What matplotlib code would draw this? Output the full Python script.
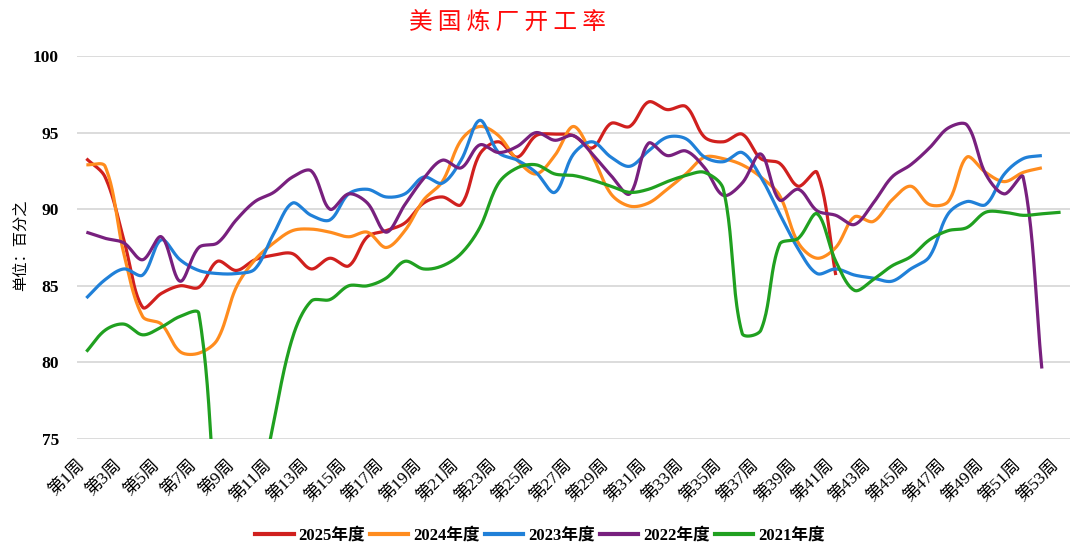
import numpy as np
import matplotlib
matplotlib.use("Agg")
import matplotlib.pyplot as plt
import matplotlib.transforms as mtransforms
from matplotlib.lines import Line2D

plt.rcParams['font.family'] = ['Liberation Serif', 'Noto Sans CJK SC', 'DejaVu Sans']

weeks = list(range(1, 54))
tick_weeks = list(range(1, 54, 2))
tick_labels = [f"第{w}周" for w in tick_weeks]

y2025 = [93.3, 92.1, 88.0, 83.6, 84.5, 85.0, 84.9, 86.6, 86.0, 86.7, 87.0, 87.1, 86.1, 86.8, 86.3,
         88.2, 88.6, 89.1, 90.4, 90.8, 90.3, 93.6, 94.4, 93.4, 94.8, 94.9, 94.8, 94.0, 95.6, 95.4,
         97.0, 96.5, 96.7, 94.7, 94.4, 94.9, 93.3, 93.0, 91.5, 92.4, 85.7]
y2024 = [92.9, 92.8, 87.1, 83.0, 82.5, 80.7, 80.6, 81.5, 84.9, 86.7, 87.8, 88.6, 88.7, 88.5, 88.2,
         88.5, 87.5, 88.6, 90.6, 91.8, 94.5, 95.4, 94.8, 93.2, 92.3, 93.5, 95.4, 93.5, 91.0, 90.2,
         90.4, 91.3, 92.3, 93.4, 93.3, 92.9, 92.1, 90.9, 87.8, 86.8, 87.5, 89.5, 89.2, 90.6, 91.5,
         90.3, 90.5, 93.4, 92.4, 91.8, 92.4, 92.7]
y2023 = [84.2, 85.4, 86.1, 85.7, 88.0, 86.7, 86.0, 85.8, 85.8, 86.1, 88.4, 90.4, 89.6, 89.3, 91.0,
         91.3, 90.8, 91.0, 92.1, 91.7, 93.2, 95.8, 93.7, 93.2, 92.4, 91.1, 93.6, 94.4, 93.4, 92.8,
         93.8, 94.7, 94.6, 93.4, 93.1, 93.7, 92.1, 89.7, 87.4, 85.8, 86.1, 85.7, 85.5, 85.3, 86.1,
         86.9, 89.7, 90.5, 90.3, 92.3, 93.3, 93.5]
y2022 = [88.5, 88.1, 87.8, 86.7, 88.2, 85.3, 87.5, 87.8, 89.3, 90.5, 91.1, 92.1, 92.5, 90.0, 91.0,
         90.4, 88.5, 90.3, 92.0, 93.2, 92.7, 94.2, 93.7, 94.1, 95.0, 94.5, 94.8, 93.6, 92.2, 91.0,
         94.3, 93.5, 93.8, 92.7, 90.9, 91.7, 93.6, 90.6, 91.3, 89.9, 89.6, 89.0, 90.4, 92.1, 92.9,
         94.0, 95.3, 95.5, 92.3, 91.0, 92.1, 79.6]
y2021 = [80.7, 82.1, 82.5, 81.8, 82.3, 83.0, 83.2, 68.6, 56.0, 69.3, 76.1, 81.6, 84.0, 84.1, 85.0,
         85.0, 85.5, 86.6, 86.1, 86.3, 87.1, 88.8, 91.7, 92.7, 92.9, 92.3, 92.2, 91.9, 91.5, 91.1,
         91.3, 91.8, 92.2, 92.4, 91.3, 81.9, 82.1, 87.7, 88.1, 89.7, 86.6, 84.7, 85.4, 86.3, 86.9,
         88.0, 88.6, 88.8, 89.8, 89.8, 89.6, 89.7, 89.8]

series = [("2025年度", y2025, "#D0201E"),
          ("2024年度", y2024, "#FF8C1E"),
          ("2023年度", y2023, "#2080D8"),
          ("2022年度", y2022, "#78207E"),
          ("2021年度", y2021, "#20A020")]

# pixel scale of one unit on each axis (used only for the curve smoothing)
SX, SY = 18.74, 15.33


def smooth(x, y, n=24, s=1.0 / 3.0):
    """Excel-like smoothed line: cubic Bezier, control arms scaled by chord lengths."""
    P = np.column_stack([np.asarray(x, float) * SX, np.asarray(y, float) * SY])
    m = len(P)
    out = [P[0]]
    t = np.linspace(0, 1, n + 1)[1:, None]
    for i in range(m - 1):
        p1, p2 = P[i], P[i + 1]
        L = np.linalg.norm(p2 - p1)
        if i > 0:
            Lp = np.linalg.norm(p1 - P[i - 1])
            d = P[i + 1] - P[i - 1]
            c1 = p1 + d * s * L / (Lp + L)
        else:
            c1 = p1 + (p2 - p1) / 3.0
        if i + 2 < m:
            Ln = np.linalg.norm(P[i + 2] - p2)
            d = P[i + 2] - P[i]
            c2 = p2 - d * s * L / (L + Ln)
        else:
            c2 = p2 - (p2 - p1) / 3.0
        seg = ((1 - t) ** 3) * p1 + 3 * ((1 - t) ** 2) * t * c1 + 3 * (1 - t) * t ** 2 * c2 + t ** 3 * p2
        out.extend(seg)
    out = np.array(out)
    return out[:, 0] / SX, out[:, 1] / SY


fig = plt.figure(figsize=(10.8, 5.59), dpi=100)
ax = fig.add_axes([0.0713, 0.2147, 0.9194, 0.6851])

for label, vals, color in series:
    xs, ys = smooth(weeks[:len(vals)], vals)
    ax.plot(xs, ys, color=color, lw=2.3, solid_capstyle='butt', zorder=3)

ax.set_xlim(0.5, 53.5)
ax.set_ylim(75, 100)
ax.set_yticks([75, 80, 85, 90, 95, 100])
ax.set_yticklabels(["75", "80", "85", "90", "95", "100"], fontsize=12.5, fontweight='bold',
                   family=['Liberation Serif'])
ax.yaxis.grid(True, color='#d9d9d9', lw=1.3, zorder=0)
ax.set_axisbelow(True)
for s in ax.spines.values():
    s.set_visible(False)
ax.tick_params(axis='both', length=0)
ax.tick_params(axis='y', pad=13)

ax.set_xticks(tick_weeks)
ax.set_xticklabels(tick_labels, rotation=45, ha='right', va='top', rotation_mode='anchor',
                   fontsize=12.5, family=['Liberation Serif', 'Noto Sans CJK SC'])
ax.tick_params(axis='x', pad=8)
offset = mtransforms.ScaledTranslation(-10 / 100, -7 / 100, fig.dpi_scale_trans)
for lab in ax.get_xticklabels():
    lab.set_transform(lab.get_transform() + offset)

fig.text(0.019, 0.562, "单位：百分之", rotation=90, ha='center', va='center', fontsize=11,
         family=['Noto Sans CJK SC'])
fig.text(0.47, 0.958, "美 国 炼 厂 开 工 率", ha='center', va='center', fontsize=17, color='#FF0A0A',
         family=['Noto Sans CJK SC'])

handles = [Line2D([0], [0], color=c, lw=3) for _, _, c in series]
labels = [l for l, _, _ in series]
fig.legend(handles, labels, loc='center', bbox_to_anchor=(0.5, 0.042), ncol=5, frameon=False,
           prop={'family': ['Liberation Serif', 'Noto Sans CJK SC'], 'weight': 'bold', 'size': 12},
           handlelength=2.3, handletextpad=0.3, columnspacing=0.3)

fig.savefig("out.png", dpi=100)
